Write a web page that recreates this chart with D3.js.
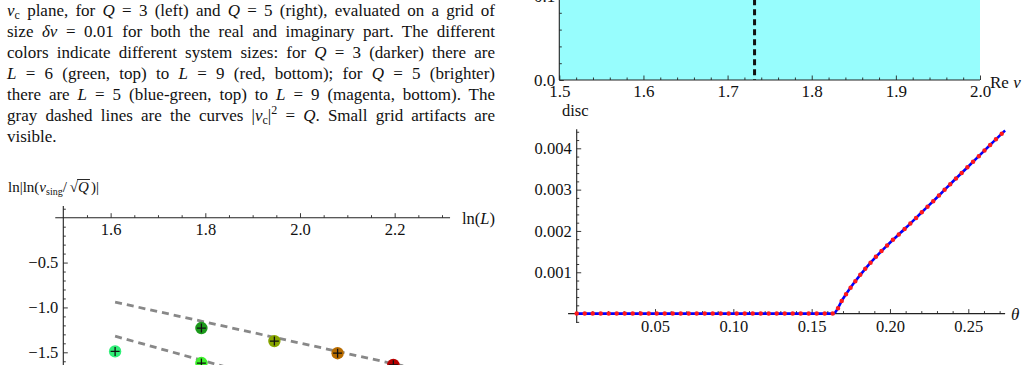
<!DOCTYPE html>
<html>
<head>
<meta charset="utf-8">
<script src="https://cdn.jsdelivr.net/npm/d3@7"></script>
<style>
  body { margin: 0; background: #fff; }
  svg { display: block; }
  text { font-family: "Liberation Serif", "Times New Roman", serif; fill: #111; }
</style>
</head>
<body>
<svg width="1029" height="365"></svg>
<script>
  // caption text (one array of [text, style] pieces per line)
  const paraLines = [
    [["v","i"],["c","sub"],[" plane, for "],["Q","i"],[" = 3 (left) and "],["Q","i"],[" = 5 (right), evaluated on a grid of"]],
    [["size "],["δv","i"],[" = 0.01 for both the real and imaginary part. The different"]],
    [["colors indicate different system sizes: for "],["Q","i"],[" = 3 (darker) there are"]],
    [["L","i"],[" = 6 (green, top) to "],["L","i"],[" = 9 (red, bottom); for "],["Q","i"],[" = 5 (brighter)"]],
    [["there are "],["L","i"],[" = 5 (blue-green, top) to "],["L","i"],[" = 9 (magenta, bottom). The"]],
    [["gray dashed lines are the curves |"],["v","i"],["c","sub"],["|"],["2","sup"],[" = "],["Q","i"],[". Small grid artifacts are"]],
    [["visible."]]
  ];

  // left plot: ln|ln(v_sing/sqrt Q)| vs ln L
  const q3Sizes  = [6, 7, 8, 9];
  const q3Values = [-1.23, -1.375, -1.51, -1.64];
  const q3Colors = ["#1c9a1c", "#88a600", "#b86c00", "#b80000"];
  const q5Sizes  = [5, 6];
  const q5Values = [-1.49, -1.62];
  const q5Colors = ["#30f078", "#3ef02c"];
  const fitAtL5  = [-0.94, -1.32];
  const fitSlope = [-1.17, -1.47];
  const lnLMajor = [1.6, 1.8, 2.0, 2.2];
  const leftYMajor = [-0.5, -1.0, -1.5];

  // top right: Re v axis with cyan region and sqrt(3) marker
  const reVMajor = [1.5, 1.6, 1.7, 1.8, 1.9, 2.0];
  const imVMajor = [0.0, 0.1];
  const vMarker = Math.sqrt(3);

  // bottom right: disc vs theta
  const thetas = [0, 0.05, 0.10, 0.15, 0.1638, 0.170, 0.1766, 0.185, 0.1979, 0.21, 0.22, 0.23, 0.24, 0.25, 0.2575, 0.2639, 0.2735];
  const discExact = [0, 0, 0, 0, 0, 0.00036, 0.00072, 0.00112, 0.00164, 0.00207, 0.00244, 0.00281, 0.00319, 0.00356, 0.00384, 0.00408, 0.00443];
  const discNumeric = discExact.slice();
  const thetaMajor = [0.05, 0.10, 0.15, 0.20, 0.25];
  const discMajor = [0.001, 0.002, 0.003, 0.004];

  const svg = d3.select("svg");
  svg.append("rect").attr("width", 1029).attr("height", 365).attr("fill", "#fff");

  // ---- caption ----
  const lineWidth = 488;
  paraLines.forEach((segs, i) => {
    const t = svg.append("text").attr("x", 7).attr("y", 15.5 + i * 21).style("font-size", "17px");
    let shift = 0;
    segs.forEach(([s, k]) => {
      const ts = t.append("tspan").text(s);
      let target = 0;
      if (k === "i") ts.style("font-style", "italic");
      if (k === "sub") { target = 3.5; ts.style("font-size", "12px"); }
      if (k === "sup") { target = -7; ts.style("font-size", "12px"); }
      if (target !== shift) { ts.attr("dy", target - shift); shift = target; }
    });
    if (i < paraLines.length - 1) {
      const w = t.node().getComputedTextLength();
      const n = (t.text().match(/ /g) || []).length;
      t.style("word-spacing", ((lineWidth - w) / n) + "px");
    }
  });

  // Mathematica-like axis: ticks inside, labels outside
  function ticks(g, axis, vals, size, fmt, pad, fs) {
    g.call(axis.tickValues(vals).tickSize(-size).tickPadding(pad).tickFormat(fmt || ""));
    g.select(".domain").remove();
    g.selectAll("line").attr("stroke", "#222").attr("stroke-width", 0.9);
    g.attr("font-family", null).attr("font-size", null);
    g.selectAll("text").style("font-size", fs + "px").attr("fill", "#111");
  }
  const seq = (a, b, step) => d3.range(Math.round(a / step), Math.round(b / step) + 1).map(k => +(k * step).toFixed(6));

  // ---- left plot ----
  const xL = d3.scaleLinear().domain([1.5, 2.3]).range([63.3, 442]);
  const yL = d3.scaleLinear().domain([0, -1.5]).range([217.7, 352.3]);
  const gL = svg.append("g");

  const fitLine = d3.line().x(d => xL(d[0])).y(d => yL(d[1]));
  fitAtL5.forEach((a, i) => {
    const l0 = Math.log(5), l1 = Math.log(9.2);
    gL.append("path")
      .attr("d", fitLine([[l0, a], [l1, a + fitSlope[i] * (l1 - l0)]]))
      .attr("fill", "none").attr("stroke", "#888").attr("stroke-width", 2.8)
      .attr("stroke-dasharray", "7,5");
  });

  const pts = q5Sizes.map((L, i) => ({L, v: q5Values[i], c: q5Colors[i]}))
    .concat(q3Sizes.map((L, i) => ({L, v: q3Values[i], c: q3Colors[i]})));
  const pt = gL.selectAll("g.pt").data(pts).enter().append("g")
    .attr("transform", d => `translate(${xL(Math.log(d.L))},${yL(d.v)})`);
  pt.append("circle").attr("r", 6.2).attr("fill", d => d.c);
  pt.append("path").attr("d", "M-4.5,0H4.5M0,-4.5V4.5").attr("stroke", "#111").attr("stroke-width", 1.3);

  gL.append("line").attr("x1", xL(1.483)).attr("x2", xL(2.317)).attr("y1", yL(0)).attr("y2", yL(0)).attr("stroke", "#222").attr("stroke-width", 1.1);
  gL.append("line").attr("x1", xL(1.5)).attr("x2", xL(1.5)).attr("y1", yL(0.13)).attr("y2", 365).attr("stroke", "#222").attr("stroke-width", 1.1);
  const gLx = gL.append("g").attr("transform", `translate(0,${yL(0)})`);
  ticks(gLx.append("g"), d3.axisBottom(xL), seq(1.55, 2.3, 0.05).filter(d => !lnLMajor.includes(d)), 2.5, null, 5, 16);
  ticks(gLx.append("g"), d3.axisBottom(xL), lnLMajor, 4.5, d3.format(".1f"), 5.5, 16.5);
  const gLy = gL.append("g").attr("transform", `translate(${xL(1.5)},0)`);
  ticks(gLy.append("g"), d3.axisLeft(yL), seq(-1.7, 0.1, 0.1).filter(d => d !== 0 && !leftYMajor.includes(d)), 2.5, null, 5, 16);
  ticks(gLy.append("g"), d3.axisLeft(yL), leftYMajor, 4.5, d => d3.format(".1f")(d).replace("-", "−"), 5, 16.5);

  const lnLab = svg.append("text").attr("x", 462).attr("y", 223.5).style("font-size", "16.5px");
  lnLab.append("tspan").text("ln(");
  lnLab.append("tspan").style("font-style", "italic").text("L");
  lnLab.append("tspan").text(")");

  const yLab = svg.append("text").attr("x", 8).attr("y", 191.5).style("font-size", "15px");
  yLab.append("tspan").text("ln|ln(");
  yLab.append("tspan").style("font-style", "italic").text("v");
  yLab.append("tspan").attr("dy", 3.5).style("font-size", "10px").text("sing");
  yLab.append("tspan").attr("dy", -3.5).text("/");
  yLab.append("tspan").attr("dx", 3).text("√");
  yLab.append("tspan").style("font-style", "italic").text("Q");
  yLab.append("tspan").attr("dx", 2).text(")|");
  const qi = yLab.text().indexOf("Q");
  const n = yLab.node();
  svg.append("line")
    .attr("x1", n.getEndPositionOfChar(qi - 1).x - 1).attr("x2", n.getEndPositionOfChar(qi).x + 1)
    .attr("y1", 179.5).attr("y2", 179.5).attr("stroke", "#111").attr("stroke-width", 0.9);

  // ---- top right plot ----
  const xR = d3.scaleLinear().domain([1.5, 2.0]).range([559.3, 980]);
  const yR = d3.scaleLinear().domain([0, 0.1]).range([80, -4]);
  const gR = svg.append("g");
  gR.append("rect").attr("x", xR(1.5)).attr("y", yR(0.12)).attr("width", xR(2.0) - xR(1.5)).attr("height", yR(0) - yR(0.12)).attr("fill", "#97fdfd");
  gR.append("line").attr("x1", xR(vMarker)).attr("x2", xR(vMarker)).attr("y1", yR(0.12)).attr("y2", yR(0))
    .attr("stroke", "#111").attr("stroke-width", 3).attr("stroke-dasharray", "6,4");
  gR.append("line").attr("x1", xR(1.5)).attr("x2", xR(2.0)).attr("y1", yR(0)).attr("y2", yR(0)).attr("stroke", "#222").attr("stroke-width", 1.1);
  gR.append("line").attr("x1", xR(1.5)).attr("x2", xR(1.5)).attr("y1", yR(0.12)).attr("y2", yR(0)).attr("stroke", "#222").attr("stroke-width", 1.1);
  const gRx = gR.append("g").attr("transform", `translate(0,${yR(0)})`);
  ticks(gRx.append("g"), d3.axisBottom(xR), seq(1.52, 1.98, 0.02).filter(d => !reVMajor.includes(d)), 2.5, null, 5, 16);
  ticks(gRx.append("g"), d3.axisBottom(xR), reVMajor, 4.5, d3.format(".1f"), 5, 17);
  const gRy = gR.append("g").attr("transform", `translate(${xR(1.5)},0)`);
  ticks(gRy.append("g"), d3.axisLeft(yR), seq(0.02, 0.08, 0.02), 2.5, null, 5, 16);
  ticks(gRy.append("g"), d3.axisLeft(yR), imVMajor, 4.5, d3.format(".1f"), 4, 17);
  const reLab = svg.append("text").attr("x", 990).attr("y", 88).style("font-size", "17px");
  reLab.append("tspan").text("Re ");
  reLab.append("tspan").style("font-style", "italic").text("v");

  // ---- bottom right plot ----
  const xB = d3.scaleLinear().domain([0, 0.25]).range([576.7, 968.3]);
  const yB = d3.scaleLinear().domain([0, 0.004]).range([313.6, 148.3]);
  const gB = svg.append("g");
  gB.append("line").attr("x1", xB(-0.0055)).attr("x2", xB(0.2735)).attr("y1", yB(0)).attr("y2", yB(0)).attr("stroke", "#222").attr("stroke-width", 1.1);
  gB.append("line").attr("x1", xB(0)).attr("x2", xB(0)).attr("y1", yB(0.00446)).attr("y2", yB(-0.00023)).attr("stroke", "#222").attr("stroke-width", 1.1);
  const gBx = gB.append("g").attr("transform", `translate(0,${yB(0)})`);
  ticks(gBx.append("g"), d3.axisBottom(xB), seq(0.01, 0.27, 0.01).filter(d => !thetaMajor.includes(d)), 2.5, null, 5, 16);
  ticks(gBx.append("g"), d3.axisBottom(xB), thetaMajor, 4.5, d3.format(".2f"), 6.5, 16.5);
  const gBy = gB.append("g").attr("transform", `translate(${xB(0)},0)`);
  ticks(gBy.append("g"), d3.axisLeft(yB), seq(-0.0002, 0.0044, 0.0002).filter(d => d !== 0 && !discMajor.some(m => Math.abs(m - d) < 1e-9)), 2.5, null, 5, 16);
  ticks(gBy.append("g"), d3.axisLeft(yB), discMajor, 4.5, d3.format(".3f"), 5, 16.5);

  const curve = d3.line().x((d, i) => xB(thetas[i])).y(d => yB(d)).curve(d3.curveMonotoneX);
  gB.append("path").attr("d", curve(discExact)).attr("fill", "none").attr("stroke", "#0000ff").attr("stroke-width", 2.6);
  gB.append("path").attr("d", curve(discNumeric)).attr("fill", "none").attr("stroke", "#ff1a1a").attr("stroke-width", 4.5)
    .attr("stroke-linecap", "round").attr("stroke-dasharray", "0,8");

  svg.append("text").attr("x", 562).attr("y", 116).style("font-size", "16.5px").text("disc");
  svg.append("text").attr("x", 1011).attr("y", 320).style("font-size", "17px").style("font-style", "italic").text("θ");
</script>
</body>
</html>
